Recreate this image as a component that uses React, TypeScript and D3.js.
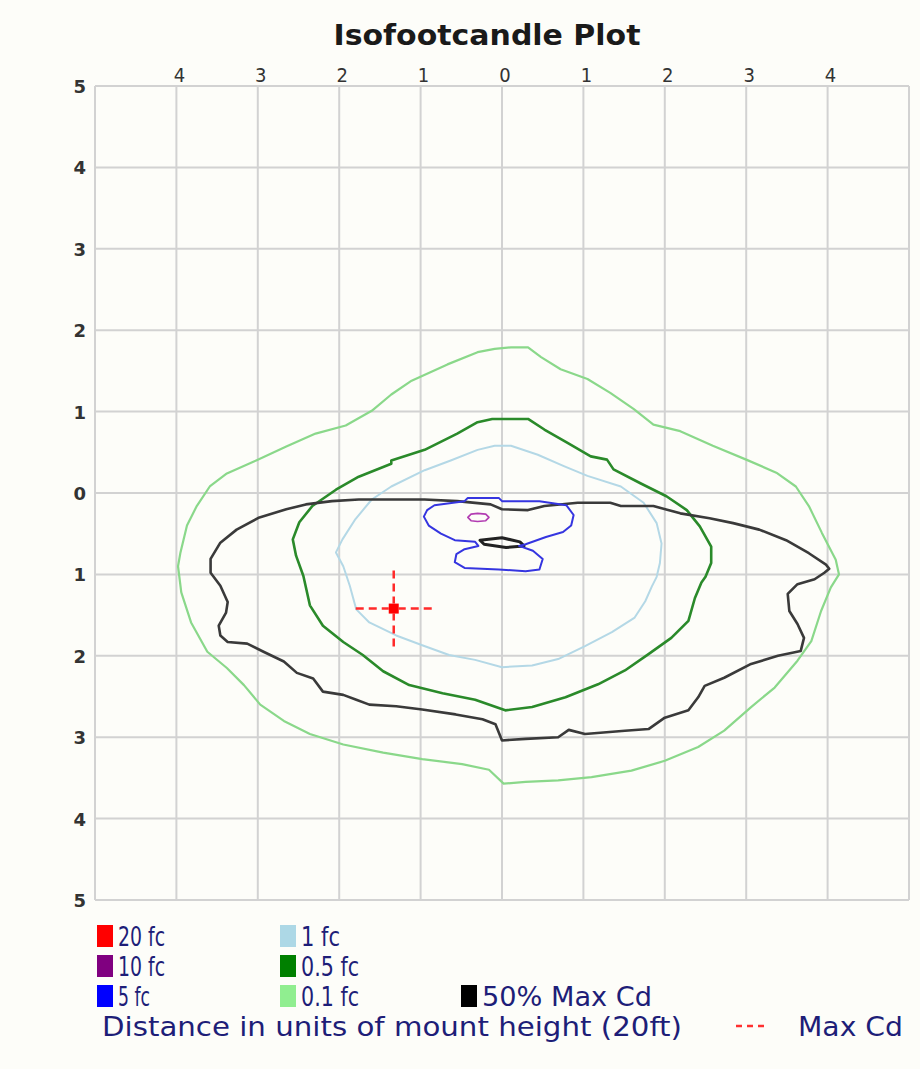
import * as d3 from 'd3';
import { useEffect, useRef } from 'react';

// axis ticks (distance in mount heights, shown as absolute values)
const xTicks = [-4, -3, -2, -1, 0, 1, 2, 3, 4];
const yTicks = [5, 4, 3, 2, 1, 0, -1, -2, -3, -4, -5];
const gridValues = [-5, -4, -3, -2, -1, 0, 1, 2, 3, 4, 5];

// contour outlines [x, y] in mount heights, y positive = up
const fc01: [number, number][] = [
  [0.11, 1.79], [0.32, 1.79], [0.48, 1.67], [0.72, 1.52], [1.05, 1.4], [1.33, 1.23], [1.62, 1.03],
  [1.86, 0.84], [2.19, 0.76], [2.59, 0.58], [3.0, 0.41], [3.37, 0.25], [3.61, 0.08], [3.77, -0.16],
  [3.93, -0.49], [4.1, -0.82], [4.14, -1.0], [4.04, -1.16], [3.92, -1.45], [3.8, -1.82], [3.63, -2.06],
  [3.35, -2.39], [3.06, -2.63], [2.73, -2.92], [2.41, -3.12], [2.0, -3.29], [1.59, -3.41], [1.1, -3.49],
  [0.69, -3.53], [0.29, -3.55], [0.02, -3.57], [-0.16, -3.4], [-0.49, -3.33], [-0.98, -3.27],
  [-1.46, -3.19], [-1.95, -3.09], [-2.36, -2.96], [-2.68, -2.8], [-2.97, -2.6], [-3.17, -2.36],
  [-3.38, -2.15], [-3.62, -1.95], [-3.82, -1.59], [-3.94, -1.22], [-3.98, -0.9], [-3.95, -0.73],
  [-3.87, -0.4], [-3.75, -0.16], [-3.59, 0.08], [-3.38, 0.24], [-3.02, 0.4], [-2.65, 0.57],
  [-2.29, 0.73], [-1.92, 0.83], [-1.6, 1.01], [-1.36, 1.21], [-1.11, 1.38], [-0.67, 1.58],
  [-0.3, 1.73], [-0.09, 1.77],
];

const fc05: [number, number][] = [
  [-0.12, 0.91], [0.32, 0.91], [0.52, 0.78], [0.8, 0.62], [1.09, 0.45], [1.29, 0.41], [1.37, 0.29],
  [1.7, 0.12], [2.02, -0.04], [2.27, -0.21], [2.43, -0.41], [2.57, -0.66], [2.57, -0.86], [2.5, -1.03],
  [2.45, -1.1], [2.37, -1.29], [2.29, -1.57], [2.08, -1.78], [1.8, -1.98], [1.51, -2.18], [1.18, -2.35],
  [0.78, -2.51], [0.37, -2.63], [0.04, -2.67], [-0.33, -2.54], [-0.73, -2.46], [-1.14, -2.36],
  [-1.46, -2.19], [-1.71, -1.99], [-1.95, -1.83], [-2.2, -1.63], [-2.36, -1.38], [-2.44, -1.02],
  [-2.53, -0.77], [-2.57, -0.57], [-2.49, -0.36], [-2.33, -0.16], [-2.04, 0.04], [-1.76, 0.2],
  [-1.36, 0.36], [-1.36, 0.4], [-0.95, 0.53], [-0.55, 0.73], [-0.3, 0.87],
];

const fc1: [number, number][] = [
  [0.11, 0.58], [0.44, 0.47], [0.76, 0.33], [1.05, 0.21], [1.46, 0.08], [1.74, -0.12], [1.9, -0.37],
  [1.96, -0.62], [1.94, -0.86], [1.9, -1.03], [1.84, -1.15], [1.76, -1.33], [1.63, -1.53], [1.35, -1.71],
  [1.02, -1.88], [0.69, -2.04], [0.37, -2.12], [0.0, -2.14], [-0.33, -2.05], [-0.65, -1.99],
  [-0.98, -1.87], [-1.3, -1.75], [-1.63, -1.59], [-1.79, -1.43], [-1.87, -1.14], [-1.95, -0.9],
  [-2.04, -0.73], [-1.96, -0.57], [-1.8, -0.32], [-1.6, -0.08], [-1.36, 0.08], [-0.95, 0.28],
  [-0.63, 0.4], [-0.3, 0.53], [-0.09, 0.58],
];

const fc5: [number, number][] = [
  [-0.92, -0.21], [-0.83, -0.15], [-0.46, -0.1], [-0.42, -0.06], [-0.04, -0.06], [0.0, -0.1], [0.46, -0.1],
  [0.79, -0.15], [0.88, -0.27], [0.85, -0.4], [0.75, -0.48], [0.54, -0.54], [0.29, -0.63], [0.21, -0.65],
  [0.38, -0.71], [0.5, -0.81], [0.46, -0.94], [0.29, -0.96], [-0.04, -0.94], [-0.46, -0.92],
  [-0.58, -0.85], [-0.56, -0.75], [-0.46, -0.69], [-0.29, -0.65], [-0.33, -0.6], [-0.58, -0.58],
  [-0.75, -0.5], [-0.9, -0.4], [-0.96, -0.29],
];

const fc10: [number, number][] = [
  [-0.42, -0.3], [-0.38, -0.26], [-0.3, -0.25], [-0.2, -0.26], [-0.16, -0.3], [-0.2, -0.34],
  [-0.3, -0.35], [-0.38, -0.34],
];

const halfMaxCd: [number, number][] = [
  [-0.14, -0.14], [0.0, -0.2], [0.32, -0.21], [0.52, -0.16], [0.93, -0.12], [1.33, -0.12], [1.46, -0.16],
  [1.86, -0.16], [2.19, -0.25], [2.55, -0.31], [2.84, -0.37], [3.16, -0.45], [3.49, -0.58], [3.77, -0.74],
  [3.98, -0.88], [4.02, -0.93], [3.96, -0.98], [3.84, -1.06], [3.63, -1.12], [3.51, -1.24], [3.53, -1.45],
  [3.63, -1.61], [3.71, -1.78], [3.67, -1.94], [3.39, -2.0], [3.06, -2.1], [2.73, -2.27], [2.49, -2.37],
  [2.41, -2.51], [2.29, -2.67], [2.0, -2.76], [1.8, -2.9], [1.51, -2.92], [1.02, -2.96], [0.82, -2.91],
  [0.69, -3.0], [0.29, -3.02], [0.0, -3.04], [-0.08, -2.84], [-0.24, -2.78], [-0.57, -2.72],
  [-0.98, -2.66], [-1.3, -2.62], [-1.63, -2.6], [-1.79, -2.54], [-1.95, -2.48], [-2.2, -2.44],
  [-2.32, -2.28], [-2.52, -2.21], [-2.68, -2.07], [-2.93, -1.95], [-3.13, -1.85], [-3.37, -1.83],
  [-3.46, -1.75], [-3.48, -1.63], [-3.39, -1.47], [-3.37, -1.34], [-3.46, -1.14], [-3.58, -0.98],
  [-3.58, -0.81], [-3.46, -0.61], [-3.26, -0.45], [-2.98, -0.3], [-2.65, -0.2], [-2.41, -0.14],
  [-2.09, -0.1], [-1.76, -0.08], [-1.36, -0.08], [-0.95, -0.08], [-0.55, -0.1],
];

const halfMaxCdInner: [number, number][] = [
  [-0.27, -0.58], [0.0, -0.55], [0.22, -0.6], [0.27, -0.65], [0.05, -0.67], [-0.22, -0.63],
];

const maxCd: [number, number] = [-1.33, -1.42];

const contours = [
  { pts: fc01, color: '#8ad88a', width: 2.2 },
  { pts: fc1, color: '#b4d8e6', width: 2 },
  { pts: fc05, color: '#2a8a2a', width: 2.6 },
  { pts: halfMaxCd, color: '#3a3a3a', width: 2.6 },
  { pts: halfMaxCdInner, color: '#222222', width: 3 },
  { pts: fc5, color: '#3535e0', width: 2 },
  { pts: fc10, color: '#b23cb2', width: 1.6 },
];

// legend
const legendLabels = ['20 fc', '10 fc', '5 fc', '1 fc', '0.5 fc', '0.1 fc', '50% Max Cd'];
const legendColors = ['#ff0000', '#800080', '#0000ff', '#add8e6', '#008000', '#90ee90', '#000000'];

function App() {
  const svgElement = useRef<SVGSVGElement | null>(null);

  const width = 920;
  const height = 1069;
  const left = 95;
  const right = 909;
  const top = 86;
  const bottom = 900;

  useEffect(() => {
    if (!svgElement.current) return;
    const svg = d3.select(svgElement.current);
    svg.selectAll('*').remove();

    const x = d3.scaleLinear().domain([-5, 5]).range([left, right]);
    const y = d3.scaleLinear().domain([5, -5]).range([top, bottom]);

    svg.append('rect').attr('width', width).attr('height', height).attr('fill', '#fdfdf9');

    svg
      .append('text')
      .attr('x', 487)
      .attr('y', 45)
      .attr('text-anchor', 'middle')
      .attr('font-family', "'DejaVu Sans Condensed', 'DejaVu Sans', sans-serif")
      .attr('font-weight', 'bold')
      .attr('font-size', 29)
      .attr('fill', '#1a1a1a')
      .attr('textLength', 307)
      .attr('lengthAdjust', 'spacingAndGlyphs')
      .text('Isofootcandle Plot');

    // grid
    const grid = svg.append('g').attr('stroke', '#d2d2d2').attr('stroke-width', 2);
    grid
      .selectAll('.v')
      .data(gridValues)
      .join('line')
      .attr('x1', (d) => x(d))
      .attr('x2', (d) => x(d))
      .attr('y1', top)
      .attr('y2', bottom);
    grid
      .selectAll('.h')
      .data(gridValues)
      .join('line')
      .attr('class', 'h')
      .attr('y1', (d) => y(d))
      .attr('y2', (d) => y(d))
      .attr('x1', left)
      .attr('x2', right);

    // ticks
    svg
      .append('g')
      .attr('font-family', "'DejaVu Sans Condensed', 'DejaVu Sans', sans-serif")
      .attr('font-size', 20)
      .attr('fill', '#333')
      .attr('text-anchor', 'middle')
      .selectAll('text')
      .data(xTicks)
      .join('text')
      .attr('x', (d) => x(d) + 3)
      .attr('y', 82)
      .text((d) => Math.abs(d));

    svg
      .append('g')
      .attr('font-family', "'DejaVu Sans', sans-serif")
      .attr('font-weight', 'bold')
      .attr('font-size', 18)
      .attr('fill', '#333')
      .attr('text-anchor', 'end')
      .selectAll('text')
      .data(yTicks)
      .join('text')
      .attr('x', 86)
      .attr('y', (d) => y(d) + 7)
      .text((d) => Math.abs(d));

    // contours
    const line = d3
      .line<[number, number]>()
      .x((d) => x(d[0]))
      .y((d) => y(d[1]))
      .curve(d3.curveLinearClosed);

    svg
      .append('g')
      .attr('fill', 'none')
      .selectAll('path')
      .data(contours)
      .join('path')
      .attr('d', (d) => line(d.pts) as string)
      .attr('stroke', (d) => d.color)
      .attr('stroke-width', (d) => d.width)
      .attr('stroke-linejoin', 'round');

    // max cd marker
    const mx = x(maxCd[0]);
    const my = y(maxCd[1]);
    const arm = 38;
    const cross = svg.append('g').attr('stroke', '#ff2a2a').attr('stroke-width', 2.5).attr('stroke-dasharray', '8,5');
    cross.append('line').attr('x1', mx - arm).attr('x2', mx - 5).attr('y1', my).attr('y2', my);
    cross.append('line').attr('x1', mx + arm).attr('x2', mx + 5).attr('y1', my).attr('y2', my);
    cross.append('line').attr('x1', mx).attr('x2', mx).attr('y1', my - arm).attr('y2', my - 5);
    cross.append('line').attr('x1', mx).attr('x2', mx).attr('y1', my + arm).attr('y2', my + 5);
    svg.append('rect').attr('x', mx - 5).attr('y', my - 5).attr('width', 10).attr('height', 10).attr('fill', '#ff0000');

    // legend
    const legendX = [97, 97, 97, 280, 280, 280, 461];
    const legendRow = [0, 1, 2, 0, 1, 2, 2];
    const legendW = [47, 47, 32, 39, 58, 58, 170];
    const lg = svg
      .append('g')
      .attr('font-family', "'DejaVu Sans Condensed', 'DejaVu Sans', sans-serif")
      .attr('font-size', 27);
    legendLabels.forEach((label, i) => {
      const ly = 925 + legendRow[i] * 30;
      lg.append('rect')
        .attr('x', legendX[i])
        .attr('y', ly)
        .attr('width', 16)
        .attr('height', 22)
        .attr('fill', legendColors[i]);
      lg.append('text')
        .attr('x', legendX[i] + 21)
        .attr('y', ly + 21)
        .attr('fill', '#1e1e78')
        .attr('textLength', legendW[i])
        .attr('lengthAdjust', 'spacingAndGlyphs')
        .text(label);
    });

    lg.append('text')
      .attr('x', 102)
      .attr('y', 1036)
      .attr('fill', '#1e1e78')
      .attr('textLength', 580)
      .attr('lengthAdjust', 'spacingAndGlyphs')
      .text('Distance in units of mount height (20ft)');
    lg.append('line')
      .attr('x1', 736)
      .attr('x2', 764)
      .attr('y1', 1026)
      .attr('y2', 1026)
      .attr('stroke', '#ff3030')
      .attr('stroke-width', 2.5)
      .attr('stroke-dasharray', '6,5');
    lg.append('text')
      .attr('x', 798)
      .attr('y', 1036)
      .attr('fill', '#1e1e78')
      .attr('textLength', 105)
      .attr('lengthAdjust', 'spacingAndGlyphs')
      .text('Max Cd');
  }, []);

  return (
    <svg
      ref={svgElement}
      width={width}
      height={height}
      style={{ position: 'absolute', left: 0, top: 0, display: 'block' }}
    />
  );
}

export default App;
